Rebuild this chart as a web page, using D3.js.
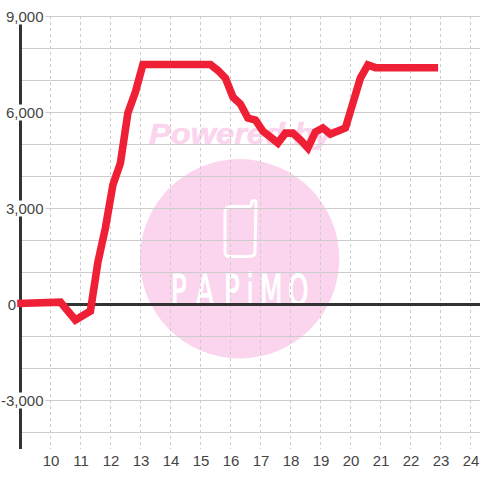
<!DOCTYPE html>
<html><head><meta charset="utf-8">
<script src="https://cdn.jsdelivr.net/npm/d3@7"></script>
<style>html,body{margin:0;padding:0;background:#fff}svg{display:block}text{font-family:"Liberation Sans",Arial,sans-serif}</style>
</head><body><div id="c"></div>
<script>
const hours = [8.89,10.33,10.83,11.33,11.58,11.83,12.08,12.33,12.58,12.83,13.08,15.33,15.58,15.83,16.08,16.33,16.58,16.83,17.08,17.33,17.58,17.83,18.08,18.33,18.58,18.83,19.08,19.33,19.83,20.33,20.58,20.83,22.92];
const values = [15,60,-500,-220,1310,2375,3720,4400,5970,6625,7485,7485,7300,7060,6470,6250,5810,5750,5400,5220,5030,5340,5340,5125,4875,5375,5500,5310,5500,7060,7470,7385,7385];
const xTicks = [10,11,12,13,14,15,16,17,18,19,20,21,22,23,24];
const yLabelled = [9000,6000,3000,0,-3000];
const yGrid = [9000,8000,7000,6000,5000,4000,3000,2000,1000,-1000,-2000,-3000,-4000];
const colors = {line:"#ef2036",axis:"#333333",grid:"#cccccc",mark:"#fbd5ee",text:"#444444"};

const W=480,H=480;
const x=d3.scaleLinear().domain([9,24]).range([20.5,470.5]);
const y=d3.scaleLinear().domain([9000,-4000]).range([16,432]);
const bottom=449;
const svg=d3.select("#c").append("svg").attr("width",W).attr("height",H).attr("viewBox",`0 0 ${W} ${H}`);

// watermark
const wm=svg.append("g");
wm.append("circle").attr("cx",239.6).attr("cy",258.8).attr("r",99.7).attr("fill",colors.mark);
wm.append("text").attr("x",149).attr("y",143.5).attr("font-size",29).attr("font-weight","bold").attr("font-style","italic")
  .attr("fill",colors.mark).attr("stroke",colors.mark).attr("stroke-width",.6)
  .attr("textLength",183).attr("lengthAdjust","spacingAndGlyphs").text("Powered by");
wm.append("path").attr("d","M232 206.5H249Q251 206.5 251.5 204V203Q252 200.5 254 200.5Q256 200.5 256 203L255 252Q255 256.500 250 256.500H230Q225 256.500 225 252V212Q225 206.500 232 206.500Z")
  .attr("fill","none").attr("stroke","#fff").attr("stroke-width",3);
const sx=0.62;
wm.append("text").attr("transform",`scale(${sx},1)`)
  .attr("x",[171,196,224,246.5,260,288].map(v=>v/sx).join(" ")).attr("y",305)
  .attr("font-size",42).attr("fill","#fff").attr("stroke","#fff").attr("stroke-width",1.2)
  .attr("style","font-family:'DejaVu Sans'").text("PAPiMO");

// grid
svg.append("g").attr("stroke",colors.grid).attr("stroke-width",1).selectAll("line").data(yGrid).join("line")
  .attr("x1",20.5).attr("x2",W).attr("y1",d=>y(d)+.5).attr("y2",d=>y(d)+.5);
svg.append("g").attr("stroke",colors.grid).attr("stroke-width",1).attr("stroke-dasharray","3,3").selectAll("line").data(xTicks).join("line")
  .attr("x1",d=>x(d)).attr("x2",d=>x(d)).attr("y1",y(9000)).attr("y2",bottom);

// axis lines
svg.append("line").attr("x1",20.5).attr("x2",20.5).attr("y1",16).attr("y2",bottom).attr("stroke",colors.axis).attr("stroke-width",3);
svg.append("line").attr("x1",20.5).attr("x2",W).attr("y1",y(0)+.5).attr("y2",y(0)+.5).attr("stroke",colors.axis).attr("stroke-width",3);

// y labels
const yAxis=d3.axisLeft(y).tickValues(yLabelled).tickSize(0).tickPadding(0).tickFormat(d=>d3.format(",")(d).replace("\u2212","-"));
const gy=svg.append("g").attr("transform","translate(43.5,0)").call(yAxis);
gy.select(".domain").remove();
gy.selectAll(".tick").each(function(d){
  const g=d3.select(this);
  g.select("text").attr("x",d===0?-27.5:0).attr("dy",null).attr("y",5.4)
    .attr("font-size",15).attr("fill",colors.text).attr("text-anchor","end").style("font-family",'"Liberation Sans"');
  if(d!==0){ g.insert("rect","text").attr("x",-42).attr("y",-8).attr("width",44).attr("height",16).attr("fill","#fff"); }
});

// x labels
const xAxis=d3.axisBottom(x).tickValues(xTicks).tickSize(0).tickPadding(0).tickFormat(d3.format("d"));
const gx=svg.append("g").attr("transform","translate(0,466)").call(xAxis);
gx.select(".domain").remove();
gx.selectAll("text").attr("y",0).attr("dy",null).attr("font-size",15).attr("fill",colors.text).style("font-family",'"Liberation Sans"');

// series
const line=d3.line().x((d,i)=>x(hours[i])).y(d=>y(d));
svg.append("path").datum(values).attr("d",line).attr("fill","none").attr("stroke",colors.line).attr("stroke-width",7.6).attr("stroke-linejoin","miter");
</script></body></html>
